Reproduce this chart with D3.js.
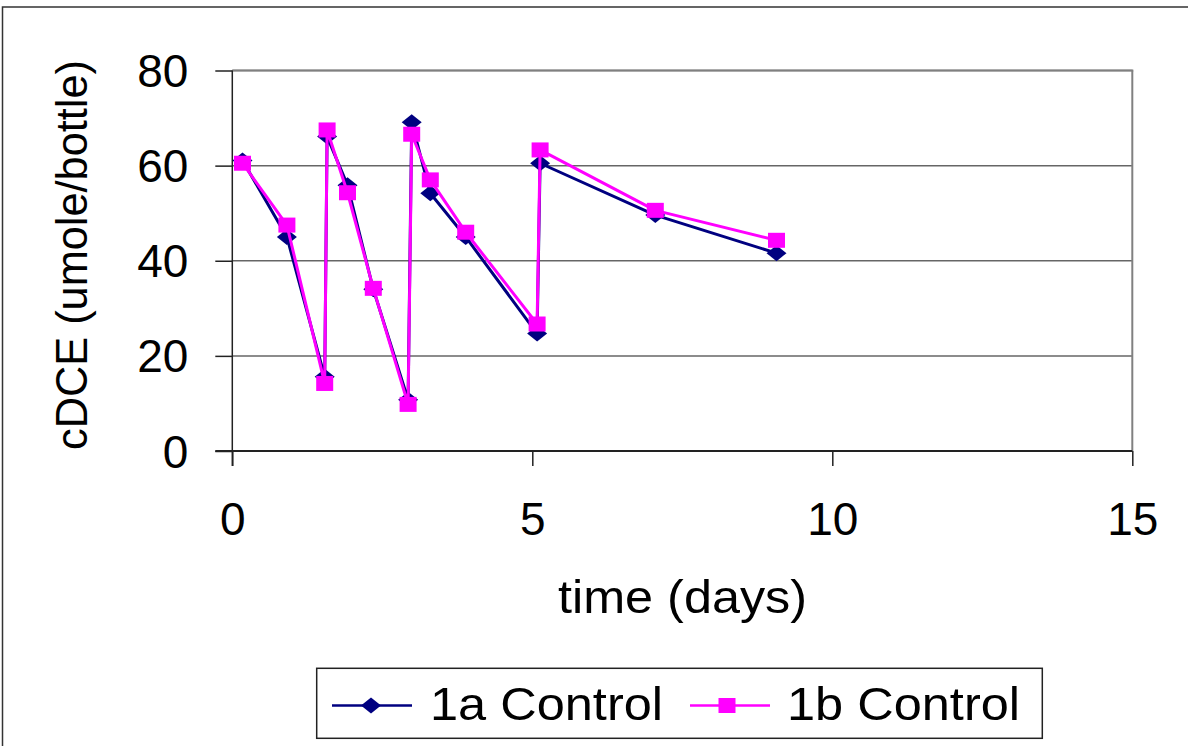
<!DOCTYPE html>
<html>
<head>
<meta charset="utf-8">
<script src="https://cdn.jsdelivr.net/npm/d3@7"></script>
<style>
  html, body { margin: 0; padding: 0; background: #fff; }
  svg { display: block; }
  text { font-family: "Liberation Sans", Arial, sans-serif; fill: #000; }
</style>
</head>
<body>
<svg id="chart" width="1188" height="746"></svg>
<script>
// ---- data ----
const times = [0.17, 0.91, 1.54, 1.58, 1.92, 2.35, 2.93, 2.99, 3.30, 3.89, 5.08, 5.13, 7.05, 9.07];
const control1a = [61.1, 45.0, 15.6, 66.1, 55.9, 34.0, 10.8, 69.1, 54.2, 45.0, 24.7, 60.5, 49.6, 41.6];
const control1b = [60.5, 47.5, 14.2, 67.5, 54.3, 34.2, 9.8, 66.6, 57.0, 46.0, 26.7, 63.3, 50.6, 44.3];
const seriesNames = ["1a Control", "1b Control"];
const xTicks = [0, 5, 10, 15];
const yTicks = [0, 20, 40, 60, 80];
const xTitle = "time (days)";
const yTitle = "cDCE (umole/bottle)";

// ---- layout ----
const svg = d3.select("#chart");
const x = d3.scaleLinear().domain([0, 15]).range([232.3, 1132.3]);
const y = d3.scaleLinear().domain([0, 80]).range([451, 70.5]);
const navy = "#000080", magenta = "#FF00FF";

// outer chart frame
svg.append("rect").attr("x", 2.5).attr("y", 7).attr("width", 1220).attr("height", 800)
  .attr("fill", "#fff").attr("stroke", "#333").attr("stroke-width", 1.5);

// gridlines
svg.append("g").selectAll("line").data(yTicks.filter(d => d > 0)).join("line")
  .attr("x1", x(0)).attr("x2", x(15))
  .attr("y1", d => y(d)).attr("y2", d => y(d))
  .attr("stroke", "#666").attr("stroke-width", 1.5);

// plot border right
svg.append("line").attr("x1", x(15)).attr("x2", x(15)).attr("y1", y(80)).attr("y2", y(0))
  .attr("stroke", "#808080").attr("stroke-width", 2);
svg.append("line").attr("x1", x(0)).attr("x2", x(15) + 1).attr("y1", y(80)).attr("y2", y(80))
  .attr("stroke", "#808080").attr("stroke-width", 2);

// axes
const yAxis = d3.axisLeft(y).tickValues(yTicks).tickSize(17).tickSizeOuter(0).tickPadding(27);
const gy = svg.append("g").attr("transform", `translate(${x(0)},0)`).call(yAxis);
const xAxis = d3.axisBottom(x).tickValues(xTicks).tickSize(15).tickSizeOuter(0).tickPadding(36);
const gx = svg.append("g").attr("transform", `translate(0,${y(0)})`).call(xAxis);
[gx, gy].forEach(g => {
  g.select(".domain").remove();
  g.selectAll(".tick line").attr("stroke", "#222").attr("stroke-width", 1.5);
  g.selectAll(".tick text").attr("font-size", 46).attr("fill", "#000")
    .attr("font-family", "Liberation Sans, Arial, sans-serif");
});
gy.selectAll(".tick text").attr("dy", "0.35em");
gx.selectAll(".tick text").attr("dy", "0.72em");

svg.append("line").attr("x1", x(0)).attr("x2", x(0)).attr("y1", y(80)).attr("y2", y(0) + 15)
  .attr("stroke", "#222").attr("stroke-width", 1.5);
svg.append("line").attr("x1", x(0) - 17).attr("x2", x(15)).attr("y1", y(0)).attr("y2", y(0))
  .attr("stroke", "#222").attr("stroke-width", 2);

// axis titles
svg.append("text").attr("x", 682.5).attr("y", 613).attr("text-anchor", "middle")
  .attr("font-size", 46).attr("textLength", 249).attr("lengthAdjust", "spacingAndGlyphs")
  .text(xTitle);
svg.append("text").attr("transform", "translate(87,255) rotate(-90)").attr("text-anchor", "middle")
  .attr("font-size", 44).attr("textLength", 390).attr("lengthAdjust", "spacingAndGlyphs")
  .text(yTitle);

// series
const diamond = (w, h) => `M0,${-h/2}L${w/2},0L0,${h/2}L${-w/2},0Z`;
const line = d3.line().x(d => x(d[0])).y(d => y(d[1]));
const data1a = times.map((t, i) => [t, control1a[i]]);
const data1b = times.map((t, i) => [t, control1b[i]]);

const plot = svg.append("g");
plot.append("path").datum(data1a).attr("d", line).attr("fill", "none")
  .attr("stroke", navy).attr("stroke-width", 3).attr("stroke-linejoin", "round");
plot.append("g").selectAll("path").data(data1a).join("path")
  .attr("transform", d => `translate(${x(d[0])},${y(d[1])})`)
  .attr("d", diamond(20, 16)).attr("fill", navy);

plot.append("path").datum(data1b).attr("d", line).attr("fill", "none")
  .attr("stroke", magenta).attr("stroke-width", 3).attr("stroke-linejoin", "round");
plot.append("g").selectAll("rect").data(data1b).join("rect")
  .attr("x", d => x(d[0]) - 8.5).attr("y", d => y(d[1]) - 7.5)
  .attr("width", 17).attr("height", 15).attr("fill", magenta);

// legend
const lg = svg.append("g");
lg.append("rect").attr("x", 316.7).attr("y", 668.3).attr("width", 725.6).attr("height", 70)
  .attr("fill", "#fff").attr("stroke", "#222").attr("stroke-width", 1.5);
const ly = 705.5;
// 1a
lg.append("line").attr("x1", 332).attr("x2", 412).attr("y1", ly).attr("y2", ly)
  .attr("stroke", navy).attr("stroke-width", 2.5);
lg.append("path").attr("transform", `translate(371,${ly})`).attr("d", diamond(20, 16)).attr("fill", navy);
lg.append("text").attr("x", 430).attr("y", 720).attr("font-size", 46)
  .attr("textLength", 233).attr("lengthAdjust", "spacingAndGlyphs").text(seriesNames[0]);
// 1b
lg.append("line").attr("x1", 690).attr("x2", 770).attr("y1", ly).attr("y2", ly)
  .attr("stroke", magenta).attr("stroke-width", 2.5);
lg.append("rect").attr("x", 727 - 8.5).attr("y", ly - 7.5).attr("width", 17).attr("height", 15)
  .attr("fill", magenta);
lg.append("text").attr("x", 787).attr("y", 720).attr("font-size", 46)
  .attr("textLength", 233).attr("lengthAdjust", "spacingAndGlyphs").text(seriesNames[1]);
</script>
</body>
</html>
